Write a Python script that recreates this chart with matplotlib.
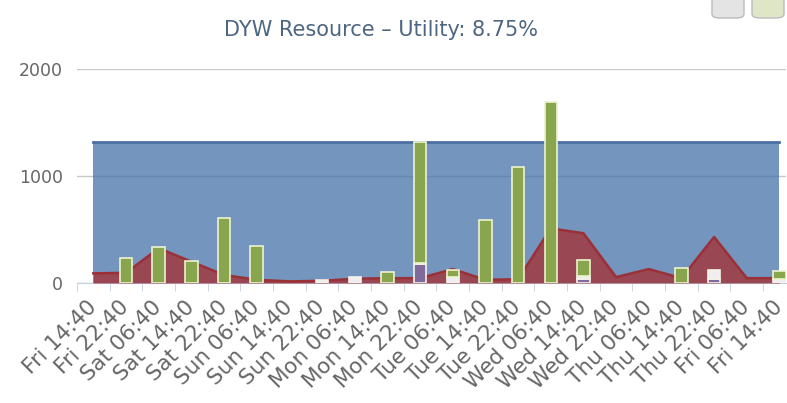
import matplotlib.pyplot as plt
from matplotlib import font_manager
from matplotlib.patches import FancyBboxPatch
from matplotlib.transforms import ScaledTranslation

labels = ['Fri 14:40', 'Fri 22:40', 'Sat 06:40', 'Sat 14:40', 'Sat 22:40', 'Sun 06:40',
          'Sun 14:40', 'Sun 22:40', 'Mon 06:40', 'Mon 14:40', 'Mon 22:40', 'Tue 06:40',
          'Tue 14:40', 'Tue 22:40', 'Wed 06:40', 'Wed 14:40', 'Wed 22:40', 'Thu 06:40',
          'Thu 14:40', 'Thu 22:40', 'Fri 06:40', 'Fri 14:40']

capacity = [1320] * 22
busy = [90, 95, 325, 200, 75, 30, 15, 20, 40, 45, 45, 130,
        30, 35, 510, 465, 55, 130, 45, 430, 45, 45]

# stacked columns
purple = [0, 0, 0, 0, 0, 0, 0, 0, 0, 0, 175, 0, 0, 0, 0, 40, 0, 0, 0, 40, 0, 0]
light = [0, 0, 0, 0, 0, 0, 0, 30, 55, 0, 15, 60, 0, 0, 0, 30, 0, 0, 0, 80, 0, 40]
green = [0, 230, 340, 205, 605, 345, 0, 0, 0, 100, 1130, 60, 590, 1080, 1690, 145,
         0, 0, 140, 0, 0, 75]

names = {f.name for f in font_manager.fontManager.ttflist}
title_font = 'Liberation Sans Narrow' if 'Liberation Sans Narrow' in names else 'DejaVu Sans'

fig = plt.figure(figsize=(7.87, 4.03), dpi=100)
ax = fig.add_axes([77 / 787, 120 / 403, 709 / 787, 214 / 403])

x = list(range(len(labels)))

ax.fill_between(x, 0, capacity, color='#4572A7', alpha=0.75, lw=0, zorder=2)
ax.plot(x, capacity, color='#4a6fa3', lw=2, zorder=3)
ax.fill_between(x, 0, busy, color='#A03a40', alpha=0.85, lw=0, zorder=4)
ax.plot(x, busy, color='#9a3038', lw=1.8, zorder=5)


def stack(vals, bottoms, color, edge):
    xs = [i for i in x if vals[i] > 0]
    ax.bar(xs, [vals[i] for i in xs], 0.38, bottom=[bottoms[i] for i in xs],
           color=color, edgecolor=edge, lw=1.2, zorder=6)


zero = [0] * len(x)
stack(purple, zero, '#80699B', '#f4f4e8')
stack(light, purple, '#efedf2', '#f4f4e8')
stack(green, [p + l for p, l in zip(purple, light)], '#89A54E', '#eef2d0')

ax.set_xlim(-0.5, 21.2)
ax.set_ylim(0, 2000)
ax.set_yticks([0, 1000, 2000])
ax.grid(axis='y', color='#c8c8c8', lw=1, zorder=1)
ax.set_axisbelow(True)

for s in ['top', 'right', 'left']:
    ax.spines[s].set_visible(False)
ax.spines['bottom'].set_color('#C0D0E0')
ax.spines['bottom'].set_zorder(1)

ax.set_xticks(x)
ax.set_xticklabels(labels, rotation=45, ha='right', va='center', rotation_mode='anchor',
                   fontsize=15.5, color='#666666')
shift = ScaledTranslation(-6 / 100, 0, fig.dpi_scale_trans)
for t in ax.get_xticklabels():
    t.set_transform(t.get_transform() + shift)
ax.set_xticks([i + 0.5 for i in range(-1, 21)], minor=True)
ax.tick_params(axis='x', which='major', length=0, pad=15)
ax.tick_params(axis='x', which='minor', length=6, color='#C0D0E0')
ax.tick_params(axis='y', length=0, pad=10, labelsize=12.5, labelcolor='#666666')

fig.text(381 / 787, 1 - 30 / 403, 'DYW Resource \u2013 Utility: 8.75%', ha='center', va='center',
         fontsize=15, color='#4d6682', family=[title_font, 'DejaVu Sans'])

# export buttons, cut off at the top right
for x0, c in [(712, '#e4e4e4'), (752, '#dfe6c8')]:
    fig.patches.append(FancyBboxPatch((x0 / 787, 1 - 18 / 403), 32 / 787, 22 / 403,
                                      boxstyle='round,pad=0,rounding_size=0.01',
                                      transform=fig.transFigure, fc=c, ec='#bbbbbb', lw=1))

fig.savefig('out.png', dpi=100)
